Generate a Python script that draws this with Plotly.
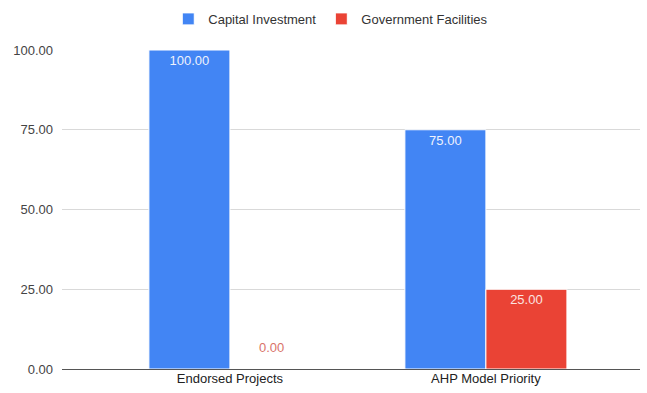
import plotly.graph_objects as go

# Chart data
categories = ["Endorsed Projects", "AHP Model Priority"]
capital_investment = [100.00, 75.00]
government_facilities = [0.00, 25.00]
y_ticks = [0, 25, 50, 75, 100]

BLUE = "#4285F4"
RED = "#EA4335"
FONT = "Liberation Sans, Arial, sans-serif"


def labels(values):
    # zero-height bars get their label as an annotation above the baseline
    return [f"{v:.2f}" if v > 0 else "" for v in values]


fig = go.Figure()
fig.add_trace(go.Bar(
    name="Capital Investment", x=categories, y=capital_investment,
    marker=dict(color=BLUE, line=dict(color="white", width=1)),
    text=labels(capital_investment), textposition="inside",
    insidetextanchor="end", textangle=0, constraintext="none",
    insidetextfont=dict(color="#EEF2FD", size=13, family=FONT),
))
fig.add_trace(go.Bar(
    name="Government Facilities", x=categories, y=government_facilities,
    marker=dict(color=RED, line=dict(color="white", width=1)),
    text=labels(government_facilities), textposition="inside",
    insidetextanchor="end", textangle=0, constraintext="none",
    insidetextfont=dict(color="#FBE3E0", size=13, family=FONT),
))

annotations = []
for i, v in enumerate(government_facilities):
    if v == 0:
        annotations.append(dict(
            x=i, y=v, xref="x", yref="y", text=f"{v:.2f}", showarrow=False,
            xshift=42, yshift=22, font=dict(color="#D9736A", size=13, family=FONT),
        ))

fig.update_layout(
    width=647, height=393,
    margin=dict(l=62, r=7, t=50, b=21),
    paper_bgcolor="white", plot_bgcolor="white",
    barmode="group", bargap=0.367, bargroupgap=0.0,
    font=dict(family=FONT, size=13, color="#444444"),
    showlegend=True,
    legend=dict(
        orientation="h", x=0.465, xanchor="center", y=0.99, yref="container",
        yanchor="top", font=dict(size=13, color="#333333"),
        itemwidth=30, traceorder="normal",
    ),
    annotations=annotations,
    xaxis=dict(
        range=[-0.656, 1.602], showgrid=False, zeroline=False,
        showline=False, ticks="", tickfont=dict(size=13, color="#222222"),
        fixedrange=True,
    ),
    yaxis=dict(
        range=[0, 100], tickvals=y_ticks,
        ticktext=[f"{t:.2f}" for t in y_ticks],
        showgrid=True, gridcolor="#D9D9D9", gridwidth=1,
        zeroline=True, zerolinecolor="#555555", zerolinewidth=1,
        ticks="", ticklabelstandoff=8, tickfont=dict(size=13, color="#444444"),
        fixedrange=True,
    ),
)

fig.write_html("out.html")
